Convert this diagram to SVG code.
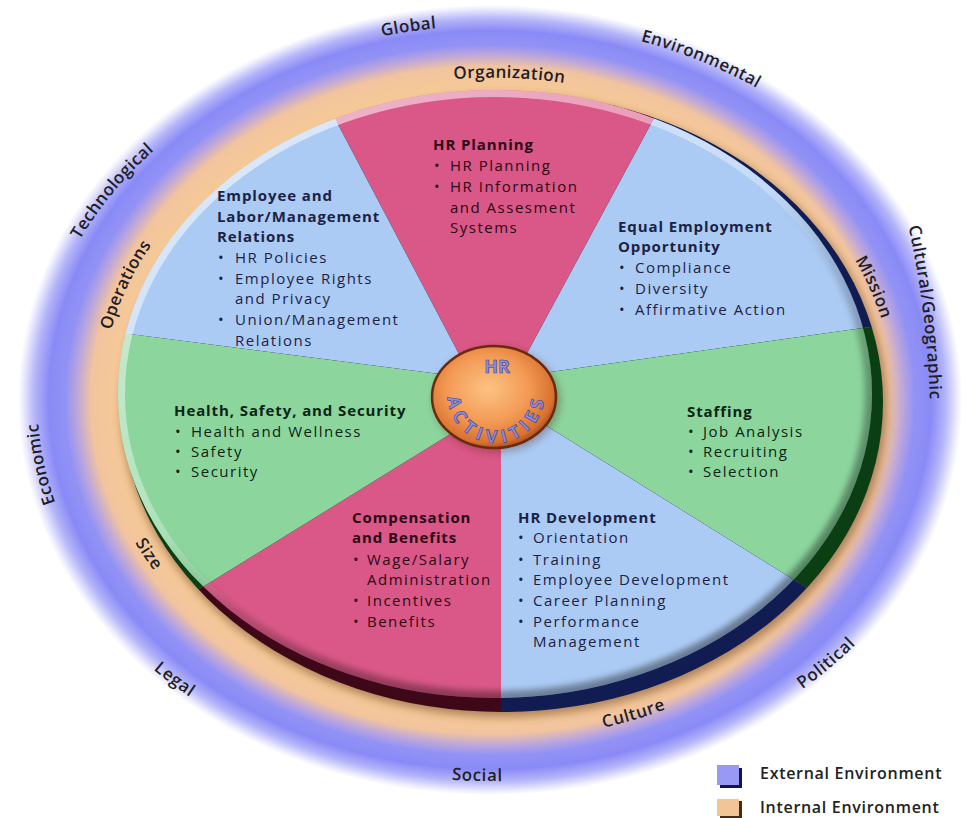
<svg xmlns="http://www.w3.org/2000/svg" width="966" height="818" viewBox="0 0 966 818">
<defs>
<style>
.t{font-family:"Open Sans","Liberation Sans",sans-serif;font-size:15px;letter-spacing:1.5px}
.h{font-weight:700;letter-spacing:0.9px}
.tb{fill:#1c2244}.tp{fill:#2c0814}.tg{fill:#0c2414}
.ring{font-family:"Open Sans","Liberation Sans",sans-serif;font-size:17px;font-weight:600;letter-spacing:0.5px;fill:#1e1e26}
.blue{fill:#accbf4}.pink{fill:#da5887}.green{fill:#8cd69e}
.dblue{fill:#101c52}.dpink{fill:#3e0818}.dgreen{fill:#0c3e14}
.leg{font-family:"Open Sans","Liberation Sans",sans-serif;font-size:16px;font-weight:600;letter-spacing:0.7px;fill:#222}
.hubt{font-family:"Open Sans","Liberation Sans",sans-serif;font-weight:700;fill:#8d8fe0;stroke:#3c3c8c;stroke-width:0.6px}
</style>
<radialGradient id="envGrad" cx="0.5" cy="0.5" r="0.5">
<stop offset="0" stop-color="#f5c898"/>
<stop offset="0.80" stop-color="#f5c898"/>
<stop offset="0.845" stop-color="#f2c49e"/>
<stop offset="0.875" stop-color="#bca6dc"/>
<stop offset="0.90" stop-color="#9292f5"/>
<stop offset="0.935" stop-color="#8a8af7"/>
<stop offset="0.965" stop-color="#b4b4f9"/>
<stop offset="0.99" stop-color="#ececfe"/>
<stop offset="1" stop-color="#ffffff"/>
</radialGradient>
<clipPath id="faceClip"><ellipse cx="495" cy="394" rx="377" ry="304"/></clipPath>
<clipPath id="baseClip"><ellipse cx="502" cy="402" rx="381" ry="310"/></clipPath>
<linearGradient id="rimHi" x1="0.15" y1="0" x2="0.85" y2="1">
<stop offset="0" stop-color="#ffffff" stop-opacity="0.6"/>
<stop offset="0.4" stop-color="#ffffff" stop-opacity="0.35"/>
<stop offset="0.58" stop-color="#ffffff" stop-opacity="0"/>
</linearGradient>
<linearGradient id="rimLo" x1="0.15" y1="0" x2="0.85" y2="1">
<stop offset="0.45" stop-color="#000000" stop-opacity="0"/>
<stop offset="0.7" stop-color="#000000" stop-opacity="0.3"/>
<stop offset="1" stop-color="#000000" stop-opacity="0.45"/>
</linearGradient>
<radialGradient id="hubGrad" cx="0.45" cy="0.42" r="0.6">
<stop offset="0" stop-color="#fcc383"/>
<stop offset="0.55" stop-color="#f39a55"/>
<stop offset="0.88" stop-color="#d9712f"/>
<stop offset="1" stop-color="#a84a1a"/>
</radialGradient>
<filter id="blur4" x="-10%" y="-10%" width="120%" height="120%"><feGaussianBlur stdDeviation="4"/></filter>
<filter id="blur3" x="-10%" y="-10%" width="120%" height="120%"><feGaussianBlur stdDeviation="3"/></filter>
<path id="pGlobal" d="M 254.8 72.2 A 467.4 380.4 0 0 1 569.1 24.8"/>
<path id="pEnv" d="M 549 18.1 A 472.7 384.7 0 0 1 837.4 137.3"/>
<path id="pCult" d="M 912 215 Q 934 310 936 410"/>
<path id="pPol" d="M 700.4 738.4 A 465.1 378.5 0 0 0 918.9 550.2"/>
<path id="pSocial" d="M 320.3 748.2 A 461 375.2 0 0 0 635.5 756.6"/>
<path id="pLegal" d="M 74.4 569.9 A 466.9 380 0 0 0 306.4 748.7"/>
<path id="pEcon" d="M 91.8 585.6 A 460.6 374.8 0 0 1 38.9 332.8"/>
<path id="pTech" d="M 41.9 312 A 462.9 376.8 0 0 1 216.7 97.1"/>
<path id="pOrg" d="M 371.1 86.8 A 403.4 328.3 0 0 1 646.7 96.8"/>
<path id="pMission" d="M 827.3 211 A 407.9 332 0 0 1 898.5 372.7"/>
<path id="pCulture" d="M 495.8 734.2 A 410.7 334.2 0 0 0 758.9 654"/>
<path id="pSize" d="M 111.4 474.3 A 391.4 318.5 0 0 0 208.1 619.3"/>
<path id="pOps" d="M 95.5 396.1 A 396.5 322.7 0 0 1 191.4 189.6"/>
<path id="pAct" d="M 456.5 380.6 A 42 42 0 1 0 535.5 380.6"/>
</defs>

<rect width="966" height="818" fill="#ffffff"/>

<g id="environment">
<ellipse cx="490" cy="400" rx="472" ry="395" fill="url(#envGrad)"/>
<ellipse cx="504" cy="406" rx="383" ry="311" fill="#5a3010" opacity="0.45" filter="url(#blur4)"/>
</g>

<g id="ring-labels">
<text class="ring" dy="0.35em"><textPath href="#pGlobal" startOffset="50%" text-anchor="middle">Global</textPath></text>
<text class="ring" dy="0.35em"><textPath href="#pEnv" startOffset="50%" text-anchor="middle">Environmental</textPath></text>
<text class="ring" dy="0.35em"><textPath href="#pCult" startOffset="50%" text-anchor="middle">Cultural/Geographic</textPath></text>
<text class="ring" dy="0.35em"><textPath href="#pPol" startOffset="50%" text-anchor="middle">Political</textPath></text>
<text class="ring" dy="0.35em"><textPath href="#pSocial" startOffset="50%" text-anchor="middle">Social</textPath></text>
<text class="ring" dy="0.35em"><textPath href="#pLegal" startOffset="50%" text-anchor="middle">Legal</textPath></text>
<text class="ring" dy="0.35em"><textPath href="#pEcon" startOffset="50%" text-anchor="middle">Economic</textPath></text>
<text class="ring" dy="0.35em"><textPath href="#pTech" startOffset="50%" text-anchor="middle">Technological</textPath></text>
<text class="ring" dy="0.35em"><textPath href="#pOrg" startOffset="50%" text-anchor="middle">Organization</textPath></text>
<text class="ring" dy="0.35em"><textPath href="#pMission" startOffset="50%" text-anchor="middle">Mission</textPath></text>
<text class="ring" dy="0.35em"><textPath href="#pCulture" startOffset="50%" text-anchor="middle">Culture</textPath></text>
<text class="ring" dy="0.35em"><textPath href="#pSize" startOffset="50%" text-anchor="middle">Size</textPath></text>
<text class="ring" dy="0.35em"><textPath href="#pOps" startOffset="50%" text-anchor="middle">Operations</textPath></text>
</g>

<g id="sector-hr-planning">
<polygon class="dpink" clip-path="url(#baseClip)" points="481,396 293.5,40 696.4,40 504,396"/>
<polygon class="pink" clip-path="url(#faceClip)" points="481,396 293.5,40 696.4,40 504,396"/>
</g>
<g id="sector-equal-employment">
<polygon class="dblue" clip-path="url(#baseClip)" points="504,396 696.4,40 950,40 950,315.7 494,380"/>
<polygon class="blue" clip-path="url(#faceClip)" points="504,396 696.4,40 950,40 950,315.7 494,380"/>
</g>
<g id="sector-staffing">
<polygon class="dgreen" clip-path="url(#baseClip)" points="494,380 950,315.7 950,676.9 492,392"/>
<polygon class="green" clip-path="url(#faceClip)" points="494,380 950,315.7 950,676.9 492,392"/>
</g>
<g id="sector-hr-development">
<polygon class="dblue" clip-path="url(#baseClip)" points="492,392 950,676.9 950,770 501,770 501,395"/>
<polygon class="blue" clip-path="url(#faceClip)" points="492,392 950,676.9 950,770 501,770 501,395"/>
</g>
<g id="sector-compensation">
<polygon class="dpink" clip-path="url(#baseClip)" points="501,395 501,770 40,770 40,687.4 494,407"/>
<polygon class="pink" clip-path="url(#faceClip)" points="501,395 501,770 40,770 40,687.4 494,407"/>
</g>
<g id="sector-health-safety">
<polygon class="dgreen" clip-path="url(#baseClip)" points="494,407 40,687.4 40,322.4 494,381"/>
<polygon class="green" clip-path="url(#faceClip)" points="494,407 40,687.4 40,322.4 494,381"/>
</g>
<g id="sector-employee-relations">
<polygon class="dblue" clip-path="url(#baseClip)" points="494,381 40,322.4 40,40 293.5,40 481,396"/>
<polygon class="blue" clip-path="url(#faceClip)" points="494,381 40,322.4 40,40 293.5,40 481,396"/>
</g>

<g id="wheel-rim">
<ellipse cx="495" cy="394" rx="377" ry="304" fill="none" stroke="url(#rimHi)" stroke-width="14" clip-path="url(#faceClip)"/>
<g clip-path="url(#faceClip)"><ellipse cx="495" cy="394" rx="377" ry="304" fill="none" stroke="url(#rimLo)" stroke-width="14" filter="url(#blur3)"/></g>
</g>

<g id="sector-texts">
<g id="text-hr-planning" class="t tp">
<text class="h" x="433" y="150">HR Planning</text>
<text x="434" y="171">•</text><text x="450" y="171">HR Planning</text>
<text x="434" y="192">•</text><text x="450" y="192">HR Information</text>
<text x="450" y="213">and Assesment</text>
<text x="450" y="233">Systems</text>
</g>
<g id="text-equal-employment" class="t tb">
<text class="h" x="618" y="232">Equal Employment</text>
<text class="h" x="618" y="252">Opportunity</text>
<text x="619" y="273">•</text><text x="635" y="273">Compliance</text>
<text x="619" y="294">•</text><text x="635" y="294">Diversity</text>
<text x="619" y="315">•</text><text x="635" y="315">Affirmative Action</text>
</g>
<g id="text-staffing" class="t tg">
<text class="h" x="687" y="417">Staffing</text>
<text x="688" y="437">•</text><text x="703" y="437">Job Analysis</text>
<text x="688" y="457">•</text><text x="703" y="457">Recruiting</text>
<text x="688" y="477">•</text><text x="703" y="477">Selection</text>
</g>
<g id="text-hr-development" class="t tb">
<text class="h" x="518" y="523">HR Development</text>
<text x="518" y="543">•</text><text x="533" y="543">Orientation</text>
<text x="518" y="565">•</text><text x="533" y="565">Training</text>
<text x="518" y="585">•</text><text x="533" y="585">Employee Development</text>
<text x="518" y="606">•</text><text x="533" y="606">Career Planning</text>
<text x="518" y="627">•</text><text x="533" y="627">Performance</text>
<text x="533" y="647">Management</text>
</g>
<g id="text-compensation" class="t tp">
<text class="h" x="352" y="523">Compensation</text>
<text class="h" x="352" y="543">and Benefits</text>
<text x="353" y="565">•</text><text x="367" y="565">Wage/Salary</text>
<text x="367" y="585">Administration</text>
<text x="353" y="606">•</text><text x="367" y="606">Incentives</text>
<text x="353" y="627">•</text><text x="367" y="627">Benefits</text>
</g>
<g id="text-health-safety" class="t tg">
<text class="h" x="174" y="416">Health, Safety, and Security</text>
<text x="175" y="437">•</text><text x="191" y="437">Health and Wellness</text>
<text x="175" y="457">•</text><text x="191" y="457">Safety</text>
<text x="175" y="477">•</text><text x="191" y="477">Security</text>
</g>
<g id="text-employee-relations" class="t tb">
<text class="h" x="217" y="201">Employee and</text>
<text class="h" x="217" y="222">Labor/Management</text>
<text class="h" x="217" y="242">Relations</text>
<text x="218" y="263">•</text><text x="235" y="263">HR Policies</text>
<text x="218" y="284">•</text><text x="235" y="284">Employee Rights</text>
<text x="235" y="304">and Privacy</text>
<text x="218" y="325">•</text><text x="235" y="325">Union/Management</text>
<text x="235" y="346">Relations</text>
</g>
</g>

<g id="hub">
<ellipse cx="497" cy="400" rx="63" ry="52" fill="#4a1a08" opacity="0.35" filter="url(#blur4)"/>
<ellipse cx="494" cy="397" rx="62" ry="51" fill="url(#hubGrad)" stroke="#6a2a0e" stroke-width="2.5"/>
<text class="hubt" x="497" y="373" text-anchor="middle" font-size="18">HR</text>
<text class="hubt" font-size="18" letter-spacing="3.5" dy="0.35em"><textPath href="#pAct" startOffset="50%" text-anchor="middle">ACTIVITIES</textPath></text>
</g>

<g id="legend">
<rect x="720" y="768" width="22" height="20" fill="#141450"/>
<rect x="717" y="765" width="22" height="20" fill="#9898f5"/>
<text class="leg" x="760" y="779">External Environment</text>
<rect x="720" y="801" width="22" height="17" fill="#4a2a10"/>
<rect x="717" y="799" width="22" height="17" fill="#f2c596"/>
<text class="leg" x="760" y="813">Internal Environment</text>
</g>
</svg>
